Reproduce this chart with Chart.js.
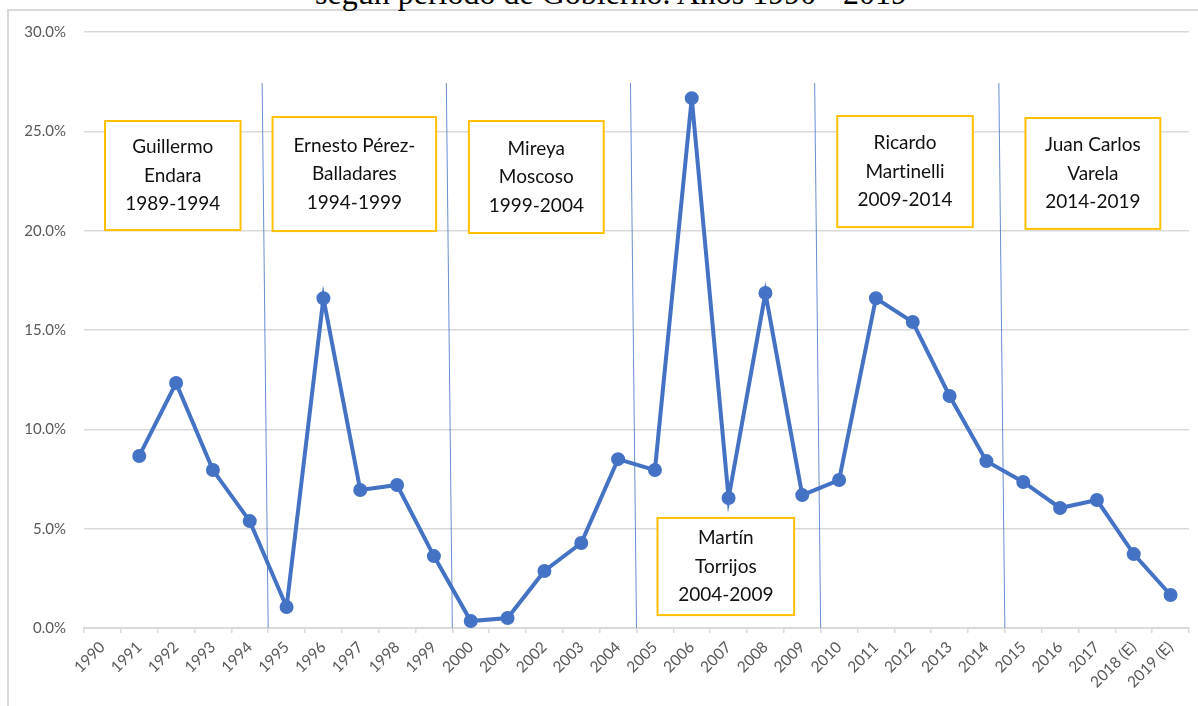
<!DOCTYPE html>
<html>
<head>
<meta charset="utf-8">
<script src="https://cdn.jsdelivr.net/npm/chart.js@4/dist/chart.umd.min.js"></script>
<style>
  html, body { margin: 0; padding: 0; background: #fff; overflow: hidden; }
  #wrap { position: relative; width: 1198px; height: 706px; }
  #frame { position: absolute; left: 7px; top: 9px; width: 1300px; height: 800px; border: 2px solid #d9d9d9; box-sizing: border-box; }
  #title { position: absolute; left: 12px; width: 1198px; top: -25px; text-align: center; font-family: "Liberation Serif", "Times New Roman", serif; font-size: 32px; color: #000; white-space: nowrap; }
  canvas { position: absolute; left: 0; top: 0; }
</style>
</head>
<body>
<div id="wrap">
  <div id="frame"></div>
  <div id="title">según período de Gobierno. Años 1990 - 2019</div>
  <canvas id="chart" width="1198" height="706"></canvas>
</div>
<script>
// Categories and values (percent)
const years = ['1990', '1991', '1992', '1993', '1994', '1995', '1996', '1997', '1998', '1999',
  '2000', '2001', '2002', '2003', '2004', '2005', '2006', '2007', '2008', '2009',
  '2010', '2011', '2012', '2013', '2014', '2015', '2016', '2017', '2018 (E)', '2019 (E)'];
const growth = [null, 8.66, 12.33, 7.95, 5.38, 1.06, 16.6, 6.95, 7.2, 3.62,
  0.35, 0.5, 2.87, 4.28, 8.5, 7.95, 26.67, 6.54, 16.86, 6.69,
  7.45, 16.6, 15.4, 11.68, 8.4, 7.35, 6.04, 6.44, 3.72, 1.66];

// Government periods
const govNames = [
  ['Guillermo', 'Endara', '1989-1994'],
  ['Ernesto Pérez-', 'Balladares', '1994-1999'],
  ['Mireya', 'Moscoso', '1999-2004'],
  ['Martín', 'Torrijos', '2004-2009'],
  ['Ricardo', 'Martinelli', '2009-2014'],
  ['Juan Carlos', 'Varela', '2014-2019']
];
const periodBreaks = ['1994', '1999', '2004', '2009', '2014'];

// Box placement in axis units: [fromIndex, toIndex, topValue, bottomValue]
const boxPlace = [
  [0.07, 3.75, 25.52, 20.03],
  [4.62, 9.06, 25.72, 19.98],
  [9.95, 13.61, 25.52, 19.88],
  [15.07, 18.78, 5.54, 0.65],
  [19.95, 23.63, 25.77, 20.18],
  [25.06, 28.72, 25.67, 20.09]
];
const breakTop = 27.43;
const breakLean = 6;

const blue = '#4472C4';
const gray = '#d9d9d9';
const labelGray = '#595959';

const periodsPlugin = {
  id: 'periods',
  afterDatasetsDraw(chart) {
    const { ctx, scales: { x, y } } = chart;
    ctx.save();
    // separator lines
    ctx.strokeStyle = 'rgba(68,114,196,0.8)';
    ctx.lineWidth = 1;
    periodBreaks.forEach((yr) => {
      const i = years.indexOf(yr) + 0.5;
      const xb = x.getPixelForValue(i);
      ctx.beginPath();
      ctx.moveTo(xb - breakLean, y.getPixelForValue(breakTop));
      ctx.lineTo(xb, y.getPixelForValue(0));
      ctx.stroke();
    });
    // boxes
    ctx.font = '19px Lato, "Open Sans", sans-serif';
    ctx.textRendering = 'optimizeSpeed';
    ctx.textAlign = 'center';
    ctx.textBaseline = 'middle';
    govNames.forEach((lines, k) => {
      const [a, b, t, bt] = boxPlace[k];
      const x0 = x.getPixelForValue(a), x1 = x.getPixelForValue(b);
      const y0 = y.getPixelForValue(t), y1 = y.getPixelForValue(bt);
      ctx.fillStyle = '#fff';
      ctx.fillRect(x0, y0, x1 - x0, y1 - y0);
      ctx.strokeStyle = '#FFC000';
      ctx.lineWidth = 2;
      ctx.strokeRect(x0, y0, x1 - x0, y1 - y0);
      ctx.fillStyle = '#111';
      const cx = (x0 + x1) / 2, cy = (y0 + y1) / 2;
      lines.forEach((s, j) => ctx.fillText(s, cx, cy + (j - 1) * 28.5));
    });
    ctx.restore();
  }
};

new Chart(document.getElementById('chart'), {
  type: 'line',
  data: {
    labels: years,
    datasets: [{
      data: growth,
      borderColor: blue,
      backgroundColor: blue,
      borderWidth: 4,
      pointRadius: 5,
      pointHoverRadius: 5,
      tension: 0,
      spanGaps: false
    }]
  },
  options: {
    responsive: false,
    animation: false,
    layout: { padding: { top: 32, right: 0, left: 0, bottom: 0 } },
    plugins: { legend: { display: false }, tooltip: { enabled: false } },
    scales: {
      x: {
        offset: true,
        grid: { offset: true, drawOnChartArea: false, drawTicks: true, tickLength: 5, color: gray, lineWidth: 1.5 },
        border: { display: true, color: gray, width: 2 },
        ticks: {
          autoSkip: false, maxRotation: 45, minRotation: 45, padding: 5,
          color: labelGray, font: { family: 'Lato, "Open Sans", sans-serif', size: 15.5 }
        },
        afterFit(scale) { scale.height = 78; }
      },
      y: {
        min: 0, max: 30,
        grid: { color: gray, lineWidth: 1.5, drawTicks: false },
        border: { display: false },
        ticks: {
          stepSize: 5, padding: 18, color: labelGray,
          font: { family: 'Lato, "Open Sans", sans-serif', size: 15 },
          callback: (v) => v.toFixed(1) + '%'
        },
        afterFit(scale) { scale.width = 84; }
      }
    }
  },
  plugins: [periodsPlugin]
});
</script>
</body>
</html>
